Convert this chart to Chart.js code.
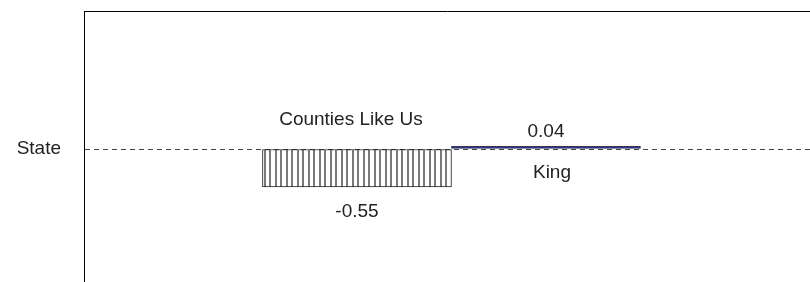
<!DOCTYPE html>
<html>
<head>
<meta charset="utf-8">
<script src="https://cdn.jsdelivr.net/npm/chart.js@4.4.1/dist/chart.umd.min.js"></script>
<style>
  html, body { margin: 0; padding: 0; background: #fff; overflow: hidden; }
  #wrap { width: 810px; height: 290px; }
</style>
</head>
<body>
<div id="wrap"><canvas id="chart"></canvas></div>
<script>
// values
const categories = ['Counties Like Us', 'King'];
const values = [-0.55, 0.04];
const baselineLabel = 'State';

const FONT = '"Liberation Sans", Arial, sans-serif';

// vertical hatch for the first bar
function hatch() {
    const c = document.createElement('canvas');
    c.width = 11;
    c.height = 4;
    const g = c.getContext('2d');
    g.fillStyle = '#fff';
    g.fillRect(0, 0, 11, 4);
    g.fillStyle = '#7a7a7a';
    g.fillRect(0, 0, 2, 4);
    g.fillRect(5, 0, 2, 4);
    return g.createPattern(c, 'repeat');
}

// labels around each bar: name on the far side of the baseline, value past the bar end
const barLabels = {
    id: 'barLabels',
    afterDatasetsDraw(chart) {
        const ctx = chart.ctx;
        const meta = chart.getDatasetMeta(0);
        const zero = chart.scales.y.getPixelForValue(0);
        ctx.save();
        ctx.font = '19px ' + FONT;
        ctx.fillStyle = '#222';
        ctx.textAlign = 'center';
        ctx.textBaseline = 'alphabetic';
        meta.data.forEach((bar, i) => {
            const v = values[i];
            const x = bar.x;
            if (v < 0) {
                ctx.fillText(categories[i], x - 6, zero - 24);
                ctx.fillText(v.toFixed(2), x, bar.y + 30);
            } else {
                ctx.fillText(v.toFixed(2), x, bar.y - 9);
                ctx.fillText(categories[i], x + 6, zero + 29);
            }
        });
        ctx.restore();
    }
};

const ctx = document.getElementById('chart').getContext('2d');
new Chart(ctx, {
    type: 'bar',
    data: {
        datasets: [{
            data: values.map((v, i) => ({ x: i + 1, y: v })),
            backgroundColor: [hatch(), '#22229a'],
            borderColor: ['#222', '#333355'],
            borderWidth: 1,
            borderSkipped: false,
            barThickness: 189
        }]
    },
    options: {
        responsive: true,
        maintainAspectRatio: false,
        animation: false,
        layout: { padding: { top: 11, right: 0, bottom: 3, left: 0 } },
        plugins: {
            legend: { display: false },
            tooltip: { enabled: false }
        },
        scales: {
            x: {
                type: 'linear',
                position: 'top',
                offset: false,
                min: -0.4444,
                max: 3.397,
                ticks: { display: false },
                grid: { display: false, offset: false },
                border: { display: true, color: '#000', width: 1 },
                afterFit(scale) { scale.height = 0; }
            },
            y: {
                min: -2,
                max: 2,
                afterBuildTicks(scale) { scale.ticks = [{ value: 0 }]; },
                afterFit(scale) {
                    scale.width = 84;
                    scale.paddingTop = 0;
                    scale.paddingBottom = 0;
                },
                ticks: {
                    padding: 23,
                    color: '#222',
                    font: { family: FONT, size: 19 },
                    callback: () => baselineLabel
                },
                grid: { color: '#444', drawTicks: false, lineWidth: 1 },
                border: { display: true, color: '#000', width: 1, dash: [5, 4] }
            }
        }
    },
    plugins: [barLabels]
});
</script>
</body>
</html>
